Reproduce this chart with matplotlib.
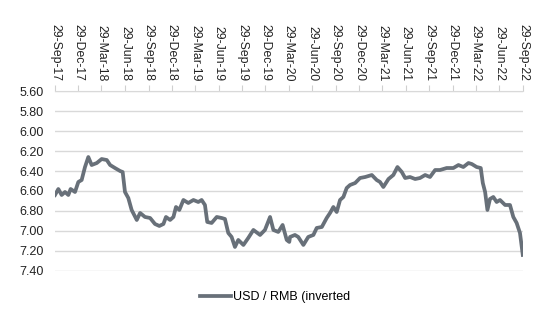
import matplotlib
matplotlib.use("Agg")
import matplotlib.pyplot as plt
import pandas as pd

dates = ["2017-09-29","2017-10-12","2017-10-25","2017-11-07","2017-11-20","2017-11-29","2017-12-16","2017-12-29",
"2018-01-11","2018-01-24","2018-02-06","2018-02-19","2018-03-11","2018-03-30","2018-04-19","2018-05-02","2018-05-21",
"2018-06-10","2018-06-20","2018-06-29","2018-07-12","2018-07-25","2018-08-14","2018-08-27","2018-09-15","2018-10-05",
"2018-10-24","2018-11-10","2018-11-26","2018-12-06","2018-12-22","2019-01-04","2019-01-14","2019-01-27","2019-02-12",
"2019-03-03","2019-03-23","2019-04-11","2019-04-24","2019-05-07","2019-05-16","2019-06-02","2019-06-22","2019-07-11",
"2019-07-24","2019-08-06","2019-08-19","2019-09-01","2019-09-14","2019-10-04","2019-10-23","2019-11-12","2019-12-08",
"2019-12-27","2020-01-16","2020-01-29","2020-02-17","2020-03-05","2020-03-21","2020-03-31",
"2020-04-03","2020-04-22","2020-05-05","2020-05-25","2020-06-13","2020-07-03","2020-07-16","2020-08-05","2020-08-24",
"2020-09-06","2020-09-19","2020-10-02","2020-10-15","2020-10-28","2020-11-10","2020-11-23","2020-12-13","2021-01-01",
"2021-01-21","2021-02-16","2021-03-07","2021-03-20","2021-04-02","2021-04-22","2021-05-11","2021-05-27","2021-06-13",
"2021-06-26","2021-07-15","2021-08-04","2021-08-23","2021-09-12","2021-10-01","2021-10-21","2021-11-09","2021-12-05",
"2021-12-31","2022-01-20","2022-02-08","2022-02-28","2022-03-13","2022-04-01","2022-04-17","2022-04-25","2022-05-04",
"2022-05-13","2022-05-23","2022-06-05","2022-06-18","2022-07-01","2022-07-21","2022-08-09","2022-08-22","2022-09-04",
"2022-09-17","2022-09-28"]

usd_rmb = [6.64,6.58,6.64,6.61,6.64,6.58,6.61,6.51,
6.49,6.36,6.26,6.34,6.32,6.28,6.29,6.34,6.37,
6.40,6.41,6.61,6.67,6.79,6.89,6.82,6.86,6.87,
6.93,6.95,6.93,6.86,6.89,6.86,6.76,6.79,6.69,
6.72,6.69,6.71,6.69,6.74,6.91,6.92,6.86,6.87,
6.88,7.02,7.06,7.16,7.09,7.14,7.07,6.99,7.04,
6.99,6.86,6.99,7.01,6.94,7.09,7.11,
7.06,7.04,7.06,7.14,7.06,7.04,6.97,6.96,6.87,
6.82,6.76,6.81,6.69,6.66,6.57,6.54,6.52,6.47,
6.46,6.44,6.49,6.51,6.56,6.48,6.44,6.36,6.41,
6.47,6.46,6.48,6.47,6.44,6.46,6.39,6.39,6.37,
6.37,6.34,6.36,6.32,6.33,6.36,6.37,6.52,6.61,
6.79,6.68,6.66,6.71,6.69,6.74,6.74,6.86,6.92,
7.02,7.24]

tick_dates = ["2017-09-29","2017-12-29","2018-03-29","2018-06-29","2018-09-29","2018-12-29","2019-03-29",
"2019-06-29","2019-09-29","2019-12-29","2020-03-29","2020-06-29","2020-09-29","2020-12-29","2021-03-29",
"2021-06-29","2021-09-29","2021-12-29","2022-03-29","2022-06-29","2022-09-29"]
y_ticks = [5.60,5.80,6.00,6.20,6.40,6.60,6.80,7.00,7.20,7.40]

plt.rcParams['font.family'] = ['Liberation Sans', 'DejaVu Sans']

fig = plt.figure(figsize=(5.5, 3.3), dpi=100)
ax = fig.add_axes([0.1, 0.179, 0.851, 0.545])

x = pd.to_datetime(dates)
line, = ax.plot(x, usd_rmb, color="#687079", lw=2.7, solid_joinstyle="round",
                label="USD / RMB (inverted")

td = pd.to_datetime(tick_dates)
ax.set_xlim(td[0], td[-1])
ax.set_ylim(7.40, 5.60)
ax.set_yticks(y_ticks)
ax.set_yticklabels([f"{v:.2f}" for v in y_ticks], fontsize=9, color="#222222")
ax.set_xticks(td)
ax.set_xticklabels([d.strftime("%d-%b-%y") for d in td], rotation=270, fontsize=8.8, color="#222222")
ax.xaxis.tick_top()
ax.tick_params(axis="x", length=4, color="#d0d0d0", pad=3)
ax.tick_params(axis="y", length=0, pad=8)
ax.grid(axis="y", color="#d9d9d9", lw=1)
ax.set_axisbelow(True)
for s in ["left", "right", "bottom"]:
    ax.spines[s].set_visible(False)
ax.spines["top"].set_color("#d9d9d9")

fig.legend(handles=[line], loc="center", bbox_to_anchor=(0.5, 0.1), frameon=False,
           fontsize=9, handlelength=2.5, handletextpad=0.1)

fig.savefig("out.png", dpi=100)
